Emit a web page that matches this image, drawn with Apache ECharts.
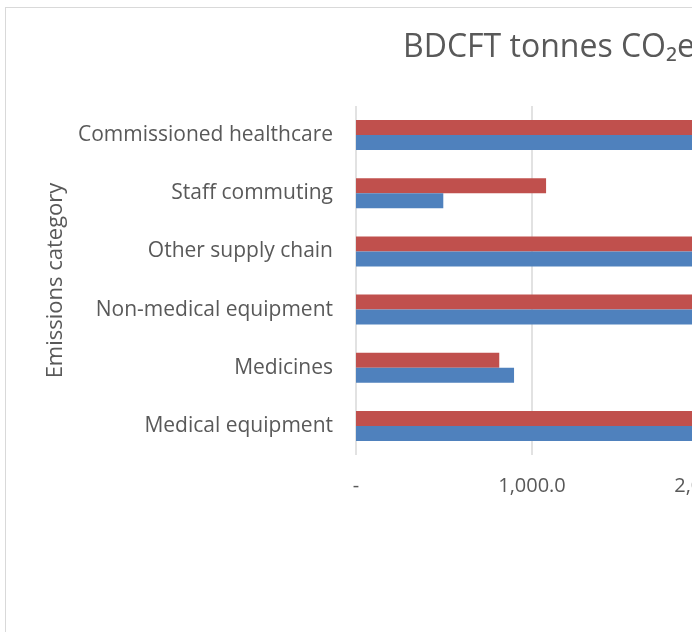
<!DOCTYPE html>
<html>
<head>
<meta charset="utf-8">
<script src="https://cdn.jsdelivr.net/npm/echarts@6/dist/echarts.min.js"></script>
<style>
  html, body { margin: 0; padding: 0; background: #fff; overflow: hidden; }
  #frame {
    position: absolute;
    left: 5px;
    top: 7px;
    width: 1300px;
    height: 700px;
    border: 1px solid #d9d9d9;
  }
  #chart { width: 1300px; height: 700px; }
</style>
</head>
<body>
<div id="frame"><div id="chart"></div></div>
<script>
// categories bottom -> top (as drawn)
const categories = [
  "Medical equipment",
  "Medicines",
  "Non-medical equipment",
  "Other supply chain",
  "Staff commuting",
  "Commissioned healthcare"
];
// upper (red) bar in each pair
const seriesRed = [2300, 814, 3000, 2600, 1080, 4100];
// lower (blue) bar in each pair
const seriesBlue = [2400, 898, 3100, 2700, 496, 3900];
const xTicks = { min: 0, max: 5000, interval: 1000 };

const chart = echarts.init(document.getElementById("chart"));

const fmt = (v) => {
  if (v === 0) return "-";
  return v.toLocaleString("en-GB", { minimumFractionDigits: 1, maximumFractionDigits: 1 });
};

const option = {
  animation: false,
  textStyle: { fontFamily: "Open Sans", color: "#595959" },
  title: {
    text: "BDCFT tonnes CO₂e",
    left: 392,
    top: 19,
    textStyle: { fontFamily: "Open Sans", fontSize: 32, fontWeight: "normal", color: "#595959" }
  },
  grid: {
    left: 350,
    top: 98,
    width: 880,
    height: 349
  },
  xAxis: {
    type: "value",
    min: xTicks.min,
    max: xTicks.max,
    interval: xTicks.interval,
    axisLine: { show: false },
    axisTick: { show: false },
    splitLine: { show: true, lineStyle: { color: "#d9d9d9", width: 1.5 } },
    axisLabel: {
      fontSize: 20,
      color: "#595959",
      margin: 21,
      formatter: fmt
    }
  },
  yAxis: {
    type: "category",
    data: categories,
    name: "Emissions category",
    nameLocation: "middle",
    nameGap: 286,
    nameRotate: 90,
    nameTextStyle: { fontSize: 22, color: "#595959" },
    axisLine: { show: false },
    axisTick: { show: false },
    splitLine: { show: false },
    axisLabel: { fontSize: 21, color: "#595959", margin: 23 }
  },
  series: [
    {
      name: "Series 2",
      type: "bar",
      data: seriesRed,
      barWidth: 15,
      barGap: "0%",
      itemStyle: { color: "#c0504d" }
    },
    {
      name: "Series 1",
      type: "bar",
      data: seriesBlue,
      barWidth: 15,
      barGap: "0%",
      itemStyle: { color: "#4f81bd" }
    }
  ]
};

chart.setOption(option);
</script>
</body>
</html>
